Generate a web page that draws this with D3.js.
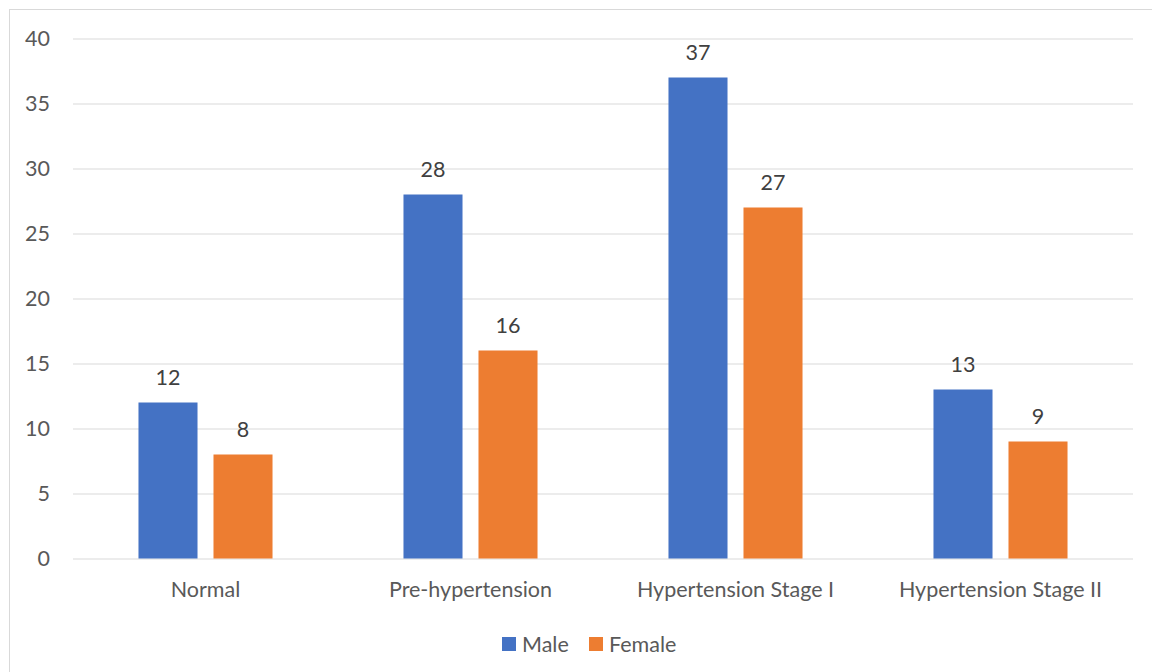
<!DOCTYPE html>
<html>
    <head>
        <meta charset="utf-8">
        <style>
            html, body {
                margin: 0px;
                padding: 0px;
                background-color: #ffffff;
            }
            svg text {
                font-family: Lato, "Open Sans", sans-serif;
            }
            .grid line {
                stroke: #d9d9d9;
                stroke-width: 1;
            }
            .grid .domain {
                stroke: none;
            }
        </style>
        <script src="https://cdn.jsdelivr.net/npm/d3@7"></script>
    </head>
    <body>
        <div id="main"></div>
        <script>
            var categories = ["Normal", "Pre-hypertension", "Hypertension Stage I", "Hypertension Stage II"];
            var seriesNames = ["Male", "Female"];
            var male = [12, 28, 37, 13];
            var female = [8, 16, 27, 9];
            var yTicks = [0, 5, 10, 15, 20, 25, 30, 35, 40];
            var colors = ["#4472c4", "#ed7d31"];

            var width = 1152, height = 672;
            var plotLeft = 73, plotRight = 1133, plotTop = 38.5, plotBottom = 558.5;
            var fontSize = 21.5;

            var svg = d3.select("#main").append("svg")
                .attr("width", width)
                .attr("height", height)
                .style("display", "block");

            // chart border
            svg.append("rect")
                .attr("x", 9.5).attr("y", 9.5)
                .attr("width", 1160).attr("height", 680)
                .attr("fill", "none")
                .attr("stroke", "#d9d9d9");

            var x0 = d3.scaleBand().domain(categories).range([plotLeft, plotRight]);
            var x1 = d3.scaleBand().domain(seriesNames)
                .range([0, x0.bandwidth()])
                .paddingInner(0.213).paddingOuter(0.873);
            var y = d3.scaleLinear().domain([0, 40]).range([plotBottom, plotTop]);

            // gridlines
            svg.append("g")
                .attr("class", "grid")
                .attr("transform", "translate(" + plotLeft + ",0)")
                .call(d3.axisLeft(y).tickValues(yTicks).tickSize(-(plotRight - plotLeft)).tickFormat(""));

            // y labels
            svg.append("g").selectAll("text")
                .data(yTicks)
                .join("text")
                .attr("x", 50)
                .attr("y", function(d) { return y(d); })
                .attr("dy", "0.35em")
                .attr("text-anchor", "end")
                .attr("font-size", fontSize)
                .attr("fill", "#595959")
                .text(function(d) { return d; });

            var rows = categories.map(function(c, i) {
                return {cat: c, values: [male[i], female[i]]};
            });

            var groups = svg.append("g").selectAll("g")
                .data(rows)
                .join("g")
                .attr("transform", function(d) { return "translate(" + x0(d.cat) + ",0)"; });

            groups.selectAll("rect")
                .data(function(d) { return d.values.map(function(v, j) { return {name: seriesNames[j], value: v, j: j}; }); })
                .join("rect")
                .attr("x", function(d) { return x1(d.name); })
                .attr("width", x1.bandwidth())
                .attr("y", function(d) { return y(d.value); })
                .attr("height", function(d) { return plotBottom - y(d.value); })
                .attr("fill", function(d) { return colors[d.j]; });

            groups.selectAll("text.val")
                .data(function(d) { return d.values.map(function(v, j) { return {name: seriesNames[j], value: v}; }); })
                .join("text")
                .attr("class", "val")
                .attr("x", function(d) { return x1(d.name) + x1.bandwidth() / 2; })
                .attr("y", function(d) { return y(d.value) - 18; })
                .attr("text-anchor", "middle")
                .attr("font-size", fontSize)
                .attr("fill", "#404040")
                .text(function(d) { return d.value; });

            // category labels
            svg.append("g").selectAll("text")
                .data(categories)
                .join("text")
                .attr("x", function(d) { return x0(d) + x0.bandwidth() / 2; })
                .attr("y", 597)
                .attr("text-anchor", "middle")
                .attr("font-size", fontSize)
                .attr("fill", "#595959")
                .text(function(d) { return d; });

            // legend
            var legendX = [502, 589];
            var legend = svg.append("g").selectAll("g")
                .data(seriesNames)
                .join("g")
                .attr("transform", function(d, i) { return "translate(" + legendX[i] + ",637)"; });
            legend.append("rect")
                .attr("width", 14).attr("height", 14)
                .attr("fill", function(d, i) { return colors[i]; });
            legend.append("text")
                .attr("x", 20).attr("y", 7)
                .attr("dy", "0.35em")
                .attr("font-size", fontSize)
                .attr("fill", "#595959")
                .text(function(d) { return d; });
        </script>
    </body>
</html>
